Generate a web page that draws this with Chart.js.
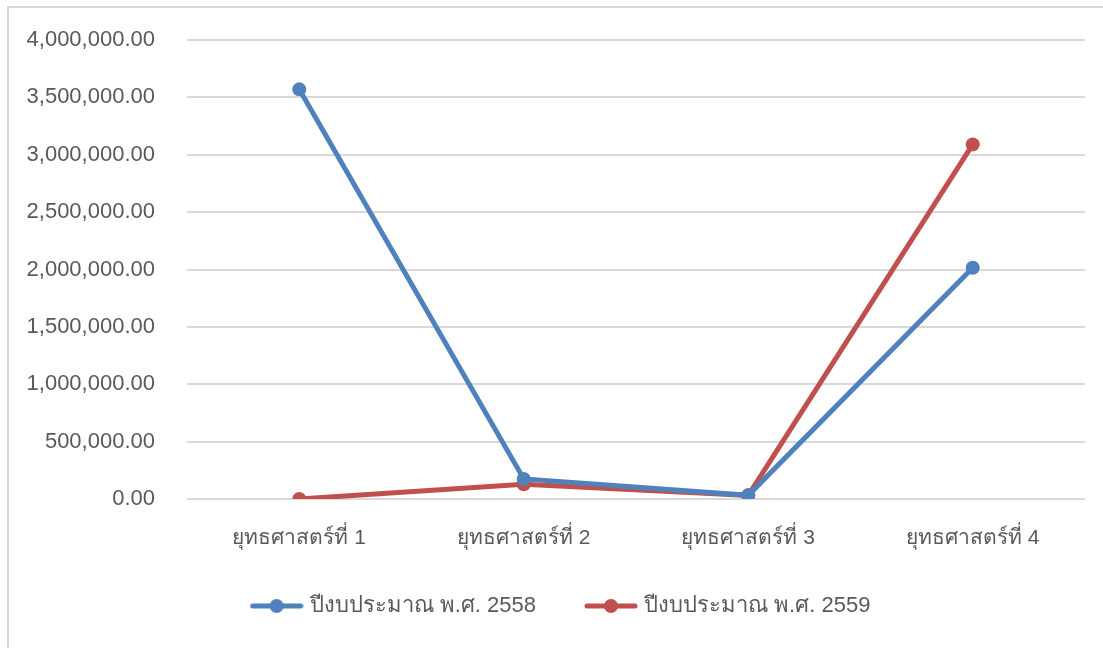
<!DOCTYPE html>
<html>
<head>
<meta charset="utf-8">
<script src="https://cdn.jsdelivr.net/npm/chart.js@4.4.1/dist/chart.umd.min.js"></script>
<style>
    body { margin: 0; background: #fff; }
    #moldura { position: absolute; left: 7px; top: 6px; width: 1120px; height: 680px; border: 2px solid #d9d9d9; }
    #area { position: absolute; left: 0; top: 0; width: 1103px; height: 648px; }
</style>
</head>
<body>
<div id="moldura"></div>
<div id="area"><canvas id="graficoLinhas"></canvas></div>
<script>
const categorias = ['ยุทธศาสตร์ที่ 1', 'ยุทธศาสตร์ที่ 2', 'ยุทธศาสตร์ที่ 3', 'ยุทธศาสตร์ที่ 4'];
const valores2558 = [3570000, 175000, 32000, 2015000];
const valores2559 = [0, 128000, 32000, 3090000];
const nomesSeries = ['ปีงบประมาณ พ.ศ. 2558', 'ปีงบประมาณ พ.ศ. 2559'];
const coresSeries = ['#4f81bd', '#c0504d'];

const fonte = "'Liberation Sans', 'Noto Sans', 'DejaVu Sans', sans-serif";

// ícone da legenda: linha com bolinha no meio
function iconeLegenda(cor) {
    const c = document.createElement('canvas');
    c.width = 54; c.height = 16;
    const g = c.getContext('2d');
    g.strokeStyle = cor;
    g.lineWidth = 5;
    g.lineCap = 'round';
    g.beginPath();
    g.moveTo(3, 8); g.lineTo(51, 8);
    g.stroke();
    g.fillStyle = cor;
    g.beginPath();
    g.arc(27, 8, 7, 0, Math.PI * 2);
    g.fill();
    return c;
}

const icones = coresSeries.map(iconeLegenda);

// posiciona a legenda como no original (um pouco à direita e mais perto do eixo)
const ajusteLegenda = {
    id: 'ajusteLegenda',
    afterLayout(chart) {
        const lg = chart.legend;
        if (!lg) return;
        lg.left = 40;
        lg.right = chart.chartArea.right;
        lg.top -= 13;
        lg.bottom -= 13;
    }
};

const serie = (i, dados) => ({
    label: nomesSeries[i],
    data: dados,
    borderColor: coresSeries[i],
    backgroundColor: coresSeries[i],
    borderWidth: 5,
    pointRadius: 7,
    pointHoverRadius: 7,
    pointBorderWidth: 0,
    tension: 0
});

new Chart(document.getElementById('graficoLinhas'), {
    type: 'line',
    data: {
        labels: categorias,
        datasets: [serie(0, valores2558), serie(1, valores2559)]
    },
    plugins: [ajusteLegenda],
    options: {
        responsive: true,
        maintainAspectRatio: false,
        animation: false,
        layout: { autoPadding: false, padding: { left: 0, right: 18, top: 40, bottom: 8 } },
        plugins: {
            tooltip: { enabled: false },
            legend: {
                position: 'bottom',
                labels: {
                    color: '#595959',
                    font: { family: fonte, size: 22 },
                    usePointStyle: true,
                    pointStyleWidth: 44,
                    padding: 53,
                    generateLabels: chart => chart.data.datasets.map((ds, i) => ({
                        text: ds.label,
                        pointStyle: icones[i],
                        fillStyle: ds.borderColor,
                        strokeStyle: ds.borderColor,
                        fontColor: '#595959',
                        lineWidth: 0,
                        hidden: false,
                        datasetIndex: i
                    }))
                }
            }
        },
        scales: {
            x: {
                offset: true,
                grid: { display: false, drawTicks: false },
                border: { display: false },
                ticks: { color: '#595959', font: { family: fonte, size: 21 }, padding: 27 },
                afterFit: s => { s.height = 56; }
            },
            y: {
                min: 0,
                max: 4000000,
                grid: { color: '#d9d9d9', lineWidth: 2, drawTicks: true, tickLength: 24, tickColor: 'rgba(0,0,0,0)' },
                border: { display: false },
                ticks: {
                    stepSize: 500000,
                    color: '#595959',
                    font: { family: fonte, size: 22 },
                    padding: 8,
                    callback: v => Number(v).toLocaleString('en-US', { minimumFractionDigits: 2, maximumFractionDigits: 2 })
                },
                afterFit: s => { s.width = 187; }
            }
        }
    }
});
</script>
</body>
</html>
